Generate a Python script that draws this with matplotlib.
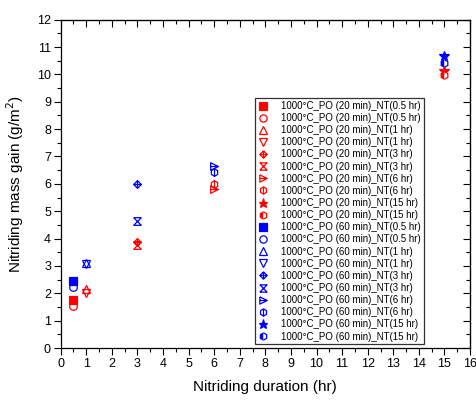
import numpy as np
import matplotlib
matplotlib.use("Agg")
import matplotlib.pyplot as plt
from matplotlib.path import Path
from matplotlib.ticker import MultipleLocator

plt.rcParams['font.family'] = ['Liberation Sans', 'DejaVu Sans']

# ---- data ----
durations = [0.5, 0.5, 1, 1, 3, 3, 6, 6, 15, 15]
gain_20min = [1.76, 1.53, 2.15, 2.0, 3.88, 3.76, 5.82, 5.98, 10.12, 9.98]
gain_60min = [2.45, 2.23, 3.1, 3.07, 5.99, 4.65, 6.66, 6.44, 10.68, 10.42]
nt_labels = ["0.5 hr", "0.5 hr", "1 hr", "1 hr", "3 hr", "3 hr", "6 hr", "6 hr", "15 hr", "15 hr"]

# ---- custom Origin-like markers ----
M, L = Path.MOVETO, Path.LINETO

crossed_diamond = Path(
    [(0, 1), (1, 0), (0, -1), (-1, 0), (0, 1), (-1, 0), (1, 0), (0, 1), (0, -1)],
    [M, L, L, L, L, M, L, M, L])
hourglass_x = Path(
    [(-1, 1), (1, 1), (-1, -1), (1, -1), (-1, 1), (1, -1), (1, 1), (-1, -1)],
    [M, L, M, L, M, L, M, L])
tri_right_line = Path(
    [(-1, 1), (1, 0), (-1, -1), (-1, 1), (-1, 0), (1, 0)],
    [M, L, L, L, M, L])
ang = np.deg2rad(np.arange(90, 450, 60))
hex_pts = [(0.95 * np.cos(a), np.sin(a)) for a in ang]
hex_vline = Path(hex_pts + [hex_pts[0], (0, 1), (0, -1)],
                 [M] + [L] * 5 + [L, M, L])

markers = [
    dict(marker='s', fillstyle='full'),
    dict(marker='o', fillstyle='none'),
    dict(marker='^', fillstyle='none'),
    dict(marker='v', fillstyle='none'),
    dict(marker=crossed_diamond, fillstyle='none'),
    dict(marker=hourglass_x, fillstyle='none'),
    dict(marker=tri_right_line, fillstyle='none'),
    dict(marker=hex_vline, fillstyle='none'),
    dict(marker='*', fillstyle='full'),
    dict(marker='h', fillstyle='left'),
]

fig = plt.figure(figsize=(4.76, 4.01), dpi=100)
ax = fig.add_axes([0.1275, 0.132, 0.86, 0.819])

for group, values, color in [("20 min", gain_20min, "red"), ("60 min", gain_60min, "blue")]:
    for i in range(len(durations)):
        mk = markers[i]
        kw = dict(linestyle='none', color=color, markeredgecolor=color,
                  markersize=5.5 if mk['marker'] != '*' else 7,
                  markeredgewidth=0.9)
        if mk['fillstyle'] == 'left':
            kw['markerfacecoloralt'] = 'white'
        ax.plot(durations[i], values[i], label=f"1000°C_PO ({group})_NT({nt_labels[i]})",
                **mk, **kw)

ax.set_xlim(0, 16)
ax.set_ylim(0, 12)
ax.xaxis.set_major_locator(MultipleLocator(1))
ax.xaxis.set_minor_locator(MultipleLocator(0.5))
ax.yaxis.set_major_locator(MultipleLocator(1))
ax.yaxis.set_minor_locator(MultipleLocator(0.5))

# bottom / left ticks point outward
ax.tick_params(axis='both', which='both', direction='out', labelsize=9, width=0.8, pad=2)
ax.tick_params(which='major', length=5)
ax.tick_params(which='minor', length=3)

# top and right ticks point inward
sx = ax.secondary_xaxis('top')
sx.set_xticks(np.arange(0, 17, 1))
sx.set_xticks(np.arange(0, 16.5, 0.5), minor=True)
sx.tick_params(which='both', direction='in', labeltop=False, width=0.8)
sx.tick_params(which='major', length=5)
sx.tick_params(which='minor', length=3)
sy = ax.secondary_yaxis('right')
sy.set_yticks(np.arange(0, 13, 1))
sy.set_yticks(np.arange(0, 12.5, 0.5), minor=True)
sy.tick_params(which='both', direction='in', labelright=False, width=0.8)
sy.tick_params(which='major', length=5)
sy.tick_params(which='minor', length=3)

for spine in ax.spines.values():
    spine.set_linewidth(0.9)

ax.set_xlabel("Nitriding duration (hr)", fontsize=11, labelpad=7)
ax.set_ylabel("Nitriding mass gain (g/m$^2$)", fontsize=11, labelpad=8)

leg = ax.legend(loc='upper left', bbox_to_anchor=(255 / 476, 1 - 98 / 401),
                bbox_transform=fig.transFigure, fontsize=7, frameon=True,
                fancybox=False, edgecolor='#333333', framealpha=1,
                borderaxespad=0, borderpad=0.3, handlelength=1.0,
                handletextpad=1.4, labelspacing=0.22, markerscale=0.95)
leg.get_frame().set_linewidth(0.9)

fig.savefig("out.png", dpi=100)
